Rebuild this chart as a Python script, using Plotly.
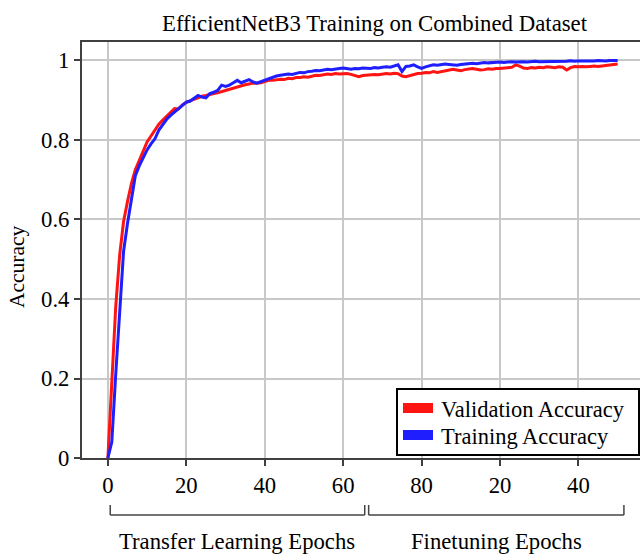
import plotly.graph_objects as go

# ---------------- data ----------------
epochs = list(range(0, 131))

val_acc = [
    0.000, 0.200, 0.380, 0.510, 0.595, 0.645, 0.690, 0.725, 0.750, 0.770,
    0.795, 0.810, 0.825, 0.840, 0.850, 0.860, 0.868, 0.879, 0.878, 0.888,
    0.895, 0.899, 0.903, 0.906, 0.910, 0.912, 0.915, 0.917, 0.919, 0.922,
    0.925, 0.928, 0.931, 0.934, 0.936, 0.939, 0.941, 0.943, 0.943, 0.944,
    0.947, 0.950, 0.950, 0.951, 0.953, 0.952, 0.955, 0.954, 0.957, 0.957,
    0.959, 0.958, 0.961, 0.963, 0.962, 0.964, 0.966, 0.965, 0.967, 0.966,
    0.966, 0.967, 0.965, 0.961, 0.959, 0.962, 0.963, 0.964, 0.965, 0.964,
    0.966, 0.967, 0.966, 0.968, 0.967, 0.961, 0.959, 0.962, 0.965, 0.967,
    0.968, 0.970, 0.969, 0.972, 0.970, 0.972, 0.975, 0.976, 0.978, 0.976,
    0.974, 0.977, 0.979, 0.980, 0.978, 0.976, 0.977, 0.979, 0.978, 0.980,
    0.980, 0.981, 0.982, 0.983, 0.989, 0.986, 0.981, 0.980, 0.982, 0.981,
    0.983, 0.982, 0.984, 0.983, 0.982, 0.984, 0.983, 0.976, 0.982, 0.985,
    0.984, 0.985, 0.984, 0.985, 0.986, 0.985, 0.986, 0.987, 0.988, 0.990,
    0.991,
]

train_acc = [
    0.000, 0.040, 0.210, 0.370, 0.520, 0.590, 0.655, 0.710, 0.735, 0.755,
    0.775, 0.790, 0.803, 0.825, 0.840, 0.852, 0.862, 0.870, 0.878, 0.887,
    0.895, 0.898, 0.905, 0.912, 0.908, 0.906, 0.917, 0.920, 0.925, 0.938,
    0.935, 0.938, 0.944, 0.950, 0.944, 0.948, 0.952, 0.946, 0.943, 0.947,
    0.951, 0.955, 0.958, 0.961, 0.963, 0.964, 0.966, 0.965, 0.968, 0.970,
    0.969, 0.972, 0.973, 0.975, 0.974, 0.976, 0.978, 0.977, 0.979, 0.980,
    0.981, 0.979, 0.978, 0.980, 0.979, 0.981, 0.981, 0.980, 0.982, 0.981,
    0.983, 0.984, 0.983, 0.986, 0.989, 0.972, 0.985, 0.986, 0.989, 0.984,
    0.980, 0.984, 0.987, 0.989, 0.988, 0.989, 0.991, 0.990, 0.989, 0.988,
    0.990, 0.991, 0.992, 0.993, 0.992, 0.994, 0.995, 0.994, 0.995, 0.996,
    0.996, 0.995, 0.996, 0.997, 0.996, 0.997, 0.997, 0.996, 0.997, 0.998,
    0.997, 0.997, 0.998, 0.997, 0.998, 0.998, 0.997, 0.998, 0.999, 0.998,
    0.999, 0.999, 0.998, 0.999, 0.999, 1.000, 0.999, 0.999, 1.000, 1.000,
    1.000,
]

x_tick_vals = [0, 20, 40, 60, 80, 100, 120]
x_tick_text = ["0", "20", "40", "60", "80", "20", "40"]
y_tick_vals = [0, 0.2, 0.4, 0.6, 0.8, 1.0]
y_tick_text = ["0", "0.2", "0.4", "0.6", "0.8", "1"]

phase_names = ["Transfer Learning Epochs", "Finetuning Epochs"]
phase_spans = [[0.6, 65.5], [66.5, 131.6]]

series_names = ["Validation Accuracy", "Training Accuracy"]
series_colors = ["rgb(255,20,20)", "rgb(30,30,255)"]

FONT = "Liberation Serif, Times New Roman, serif"

# plot-area geometry (pixels) used for placing decorations
ML, MR, MT, MB = 82, 0, 42, 96
W, H = 640, 554
PW, PH = W - ML - MR, H - MT - MB


def px_x(p):
    return (p - ML) / PW


def px_y(p):
    return (H - MB - p) / PH


# ---------------- figure ----------------
fig = go.Figure()
for name, ys, col in zip(series_names, [val_acc, train_acc], series_colors):
    fig.add_trace(go.Scatter(x=epochs, y=ys, mode="lines", name=name,
                             line=dict(color=col, width=3), showlegend=False))

shapes = []
annotations = []

# phase brackets below the x axis
for (a, b), label in zip(phase_spans, phase_names):
    line = dict(color="#444", width=1.5)
    yb, yt = px_y(515), px_y(505)
    shapes.append(dict(type="line", xref="x", yref="paper", x0=a, x1=b, y0=yb, y1=yb, line=line))
    shapes.append(dict(type="line", xref="x", yref="paper", x0=a, x1=a, y0=yb, y1=yt, line=line))
    shapes.append(dict(type="line", xref="x", yref="paper", x0=b, x1=b, y0=yb, y1=yt, line=line))
    annotations.append(dict(text=label, xref="x", yref="paper", x=(a + b) / 2,
                            y=px_y(541), xanchor="center", yanchor="middle",
                            showarrow=False, font=dict(size=22.7, family=FONT, color="black")))

# title
annotations.append(dict(text="EfficientNetB3 Training on Combined Dataset",
                        xref="paper", yref="paper", x=px_x(375), y=px_y(23),
                        xanchor="center", yanchor="middle", showarrow=False,
                        font=dict(size=22.8, family=FONT, color="black")))

# y axis title
annotations.append(dict(text="Accuracy", xref="paper", yref="paper", x=px_x(17), y=px_y(267),
                        textangle=-90, xanchor="center", yanchor="middle", showarrow=False,
                        font=dict(size=21.5, family=FONT, color="black")))

# legend box drawn manually (bar swatches as in reference)
shapes.append(dict(type="rect", xref="paper", yref="paper",
                   x0=px_x(397), x1=px_x(639), y0=px_y(455), y1=px_y(389),
                   fillcolor="white", line=dict(color="black", width=2), layer="above"))
for i, (name, col) in enumerate(zip(series_names, series_colors)):
    cy = 408 + 27 * i
    shapes.append(dict(type="rect", xref="paper", yref="paper",
                       x0=px_x(403), x1=px_x(433), y0=px_y(cy + 5), y1=px_y(cy - 5),
                       fillcolor=col, line=dict(width=0), layer="above"))
    annotations.append(dict(text=name, xref="paper", yref="paper", x=px_x(439), y=px_y(cy + 1),
                            xanchor="left", yanchor="middle", showarrow=False,
                            font=dict(size=22.5, family=FONT, color="black")))

fig.update_layout(
    width=W, height=H,
    margin=dict(l=ML, r=MR, t=MT, b=MB),
    paper_bgcolor="white", plot_bgcolor="white",
    font=dict(family=FONT, size=22, color="black"),
    showlegend=False,
    xaxis=dict(range=[-6.6, 135.7], tickvals=x_tick_vals, ticktext=x_tick_text,
               showgrid=True, gridcolor="#c8c8c8", gridwidth=1.5, zeroline=False,
               showline=True, linecolor="#404040", linewidth=2, mirror=True,
               ticks="outside", ticklen=6, tickcolor="#404040", tickwidth=1.5,
               tickfont=dict(size=22.7, family=FONT, color="black")),
    yaxis=dict(range=[0, 1.0465], tickvals=y_tick_vals, ticktext=y_tick_text,
               showgrid=True, gridcolor="#c8c8c8", gridwidth=1.5, zeroline=False,
               showline=True, linecolor="#404040", linewidth=2,
               ticks="outside", ticklen=6, tickcolor="#404040", tickwidth=1.5,
               tickfont=dict(size=22.7, family=FONT, color="black")),
    shapes=shapes,
    annotations=annotations,
)

fig.write_html("out.html")
